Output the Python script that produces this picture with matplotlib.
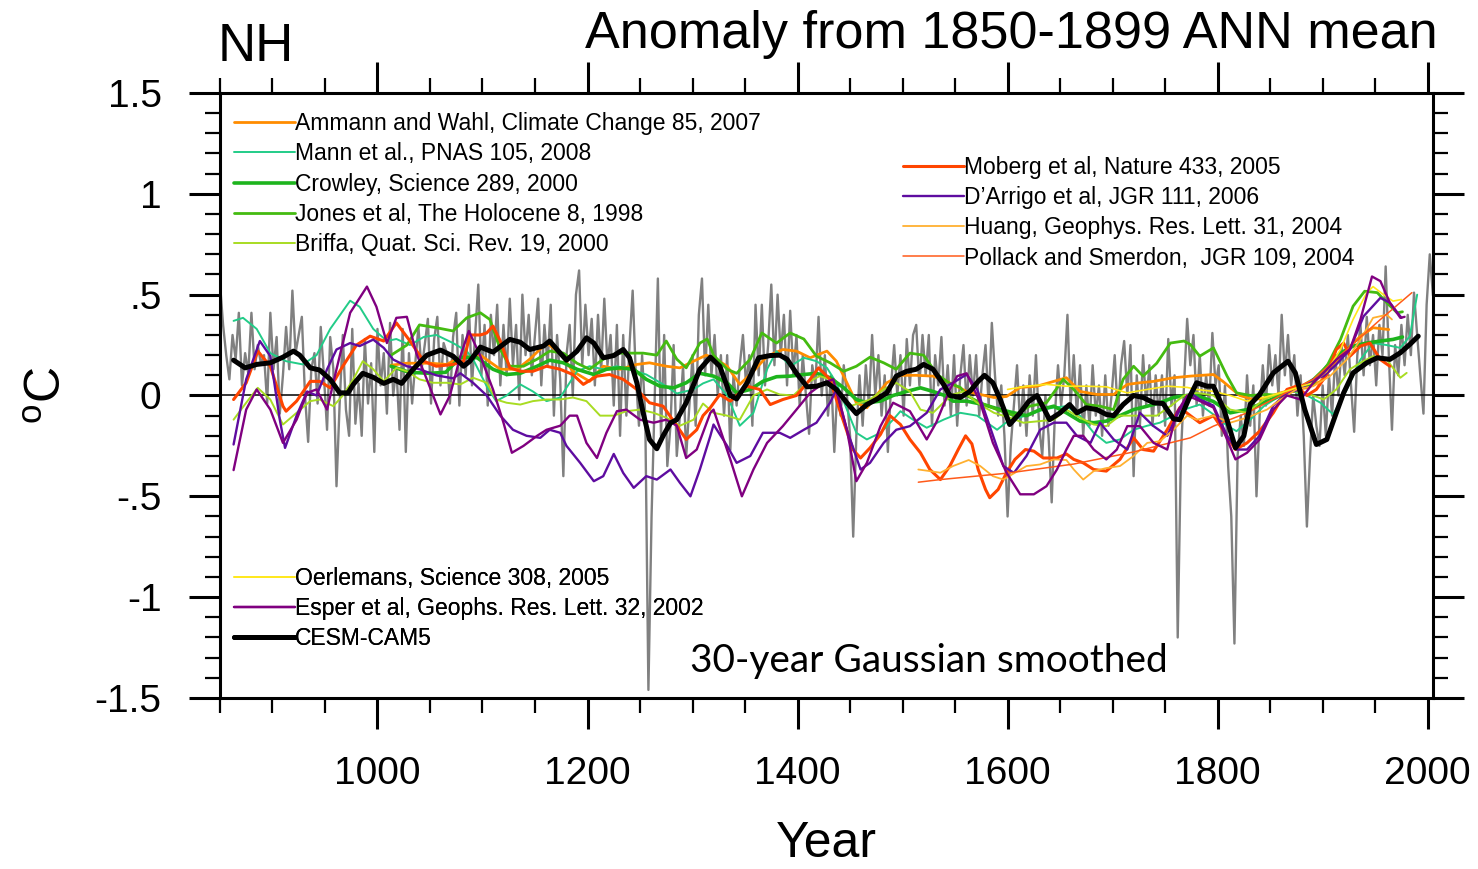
import numpy as np
import matplotlib
matplotlib.use("Agg")
import matplotlib.pyplot as plt
from matplotlib.ticker import MultipleLocator, FixedLocator

plt.rcParams['font.family'] = ['Liberation Sans', 'DejaVu Sans']
plt.rcParams['mathtext.fontset'] = 'custom'
plt.rcParams['mathtext.rm'] = 'Liberation Sans'

# ---------------------------------------------------------------------------
# Data: (year, anomaly in degC relative to 1850-1899)
# ---------------------------------------------------------------------------
cesm_annual = [
    (850, 0.56), (853, 0.35), (856, 0.2), (859, 0.08), (862, 0.3), (865, 0.18), (868, 0.41), (871, 0.05),
    (874, 0.21), (877, 0.11), (880, 0.41), (883, 0.13), (886, 0.25), (889, 0.16), (892, 0.2), (895, -0.04),
    (898, 0.41), (901, 0.13), (904, 0.29), (907, -0.09), (910, 0.1), (913, 0.34), (916, 0.13), (919, 0.52),
    (922, 0.21), (925, 0.3), (928, 0.39), (931, 0.0), (934, -0.23), (937, 0.13), (940, 0.21), (943, -0.04),
    (946, 0.34), (949, 0.1), (952, -0.17), (955, 0.29), (958, 0.13), (961, -0.45), (964, -0.04), (967, 0.3),
    (970, -0.07), (973, -0.2), (976, 0.33), (979, -0.14), (982, 0.06), (985, -0.2), (988, 0.28), (991, -0.04),
    (994, 0.16), (997, -0.28), (1000, 0.33), (1003, 0.05), (1006, 0.21), (1009, -0.09), (1012, 0.36),
    (1015, 0.0), (1018, 0.14), (1021, -0.17), (1024, 0.33), (1027, -0.28), (1030, 0.21), (1033, -0.04),
    (1036, 0.16), (1039, 0.34), (1042, 0.13), (1045, 0.25), (1048, 0.38), (1051, -0.04), (1054, 0.28),
    (1057, 0.39), (1060, 0.05), (1063, 0.26), (1066, 0.21), (1069, -0.04), (1072, 0.29), (1075, 0.41),
    (1078, -0.05), (1081, 0.3), (1084, 0.1), (1087, 0.45), (1090, 0.05), (1093, 0.3), (1096, 0.55),
    (1099, 0.1), (1102, 0.35), (1105, -0.05), (1108, 0.4), (1111, 0.2), (1114, 0.45), (1117, 0.05),
    (1120, 0.35), (1123, 0.1), (1126, 0.48), (1129, 0.15), (1132, 0.35), (1135, -0.02), (1138, 0.5),
    (1141, 0.2), (1144, 0.4), (1147, 0.1), (1150, 0.3), (1153, 0.48), (1156, 0.05), (1159, 0.35),
    (1162, 0.15), (1165, 0.45), (1168, -0.1), (1171, 0.3), (1174, 0.08), (1177, -0.4), (1180, 0.2),
    (1183, 0.35), (1186, 0.0), (1189, 0.5), (1192, 0.62), (1195, 0.15), (1198, 0.45), (1201, 0.2),
    (1204, 0.38), (1207, 0.05), (1210, 0.4), (1213, 0.12), (1216, 0.48), (1219, 0.15), (1222, 0.3),
    (1225, -0.05), (1228, 0.35), (1231, -0.2), (1234, 0.3), (1237, -0.1), (1240, 0.25), (1243, 0.52),
    (1246, 0.1), (1249, -0.15), (1252, 0.2), (1255, -0.1), (1258, -1.46), (1261, -0.6), (1264, 0.0),
    (1267, 0.58), (1270, -0.2), (1273, 0.3), (1276, -0.35), (1279, -0.15), (1282, 0.25), (1285, -0.3),
    (1288, -0.1), (1291, 0.15), (1294, -0.3), (1297, -0.05), (1300, 0.2), (1303, -0.15), (1306, 0.4),
    (1309, 0.58), (1312, 0.1), (1315, 0.45), (1318, 0.1), (1321, 0.3), (1324, 0.0), (1327, 0.2),
    (1330, -0.1), (1333, 0.2), (1336, -0.27), (1339, 0.1), (1342, -0.05), (1345, 0.15), (1348, 0.3),
    (1351, 0.05), (1354, 0.2), (1357, -0.15), (1360, 0.45), (1363, 0.1), (1366, 0.45), (1369, 0.05),
    (1372, 0.25), (1375, 0.55), (1378, 0.15), (1381, 0.5), (1384, 0.2), (1387, 0.4), (1390, 0.05),
    (1393, 0.42), (1396, 0.1), (1399, 0.3), (1402, -0.05), (1405, 0.2), (1408, 0.0), (1411, -0.19),
    (1414, 0.15), (1417, 0.05), (1420, 0.39), (1423, 0.0), (1426, 0.2), (1429, -0.1), (1432, 0.1),
    (1435, -0.28), (1438, 0.05), (1441, -0.1), (1444, 0.15), (1447, 0.0), (1450, -0.2), (1453, -0.7),
    (1456, -0.2), (1459, 0.1), (1462, -0.15), (1465, 0.15), (1468, -0.05), (1471, 0.3), (1474, 0.0),
    (1477, 0.2), (1480, -0.1), (1483, 0.1), (1486, -0.28), (1489, 0.05), (1492, 0.25), (1495, 0.0),
    (1498, 0.2), (1501, -0.1), (1504, 0.28), (1507, 0.05), (1510, 0.3), (1513, 0.35), (1516, 0.05),
    (1519, 0.3), (1522, 0.1), (1525, 0.3), (1528, -0.15), (1531, 0.2), (1534, 0.05), (1537, 0.29),
    (1540, -0.05), (1543, 0.15), (1546, -0.1), (1549, 0.2), (1552, -0.15), (1555, 0.1), (1558, 0.25),
    (1561, -0.05), (1564, 0.2), (1567, 0.0), (1570, 0.2), (1573, -0.1), (1576, 0.1), (1579, 0.25),
    (1582, -0.05), (1585, 0.36), (1588, 0.1), (1591, -0.1), (1594, 0.05), (1597, -0.2), (1600, -0.6),
    (1603, -0.25), (1606, -0.05), (1609, 0.15), (1612, -0.15), (1615, 0.05), (1618, -0.2), (1621, 0.1),
    (1624, -0.1), (1627, 0.2), (1630, -0.15), (1633, -0.3), (1636, 0.0), (1639, -0.2), (1642, -0.53),
    (1645, -0.1), (1648, 0.15), (1651, -0.05), (1654, 0.1), (1657, 0.4), (1660, -0.05), (1663, 0.2),
    (1666, -0.1), (1669, 0.15), (1672, -0.2), (1675, 0.05), (1678, -0.15), (1681, 0.15), (1684, -0.1),
    (1687, 0.05), (1690, -0.2), (1693, 0.1), (1696, -0.15), (1699, 0.0), (1702, 0.2), (1705, -0.1),
    (1708, 0.15), (1711, 0.27), (1714, 0.0), (1717, 0.25), (1720, -0.4), (1723, 0.1), (1726, -0.15),
    (1729, 0.2), (1732, -0.05), (1735, 0.15), (1738, -0.15), (1741, 0.1), (1744, -0.1), (1747, 0.1),
    (1750, -0.15), (1753, 0.28), (1756, -0.05), (1759, 0.1), (1762, -1.2), (1765, -0.3), (1768, 0.05),
    (1771, 0.38), (1774, 0.15), (1777, 0.3), (1780, -0.05), (1783, 0.2), (1786, -0.1), (1789, 0.1),
    (1792, -0.05), (1795, 0.31), (1798, 0.05), (1801, 0.15), (1804, -0.2), (1807, 0.05), (1810, -0.35),
    (1813, -0.6), (1816, -1.23), (1819, -0.3), (1822, -0.1), (1825, -0.25), (1828, 0.1), (1831, -0.15),
    (1834, 0.05), (1837, -0.5), (1840, -0.1), (1843, 0.15), (1846, -0.05), (1849, 0.25), (1852, 0.05),
    (1855, 0.2), (1858, 0.0), (1861, 0.4), (1864, 0.1), (1867, 0.3), (1870, 0.05), (1873, 0.2),
    (1876, -0.1), (1879, 0.1), (1882, -0.2), (1885, -0.65), (1888, -0.3), (1891, 0.0), (1894, -0.15),
    (1897, -0.25), (1900, 0.05), (1903, -0.2), (1906, 0.1), (1909, -0.1), (1912, 0.2), (1915, 0.0),
    (1918, 0.25), (1921, 0.1), (1924, 0.3), (1927, 0.05), (1930, -0.18), (1933, 0.2), (1936, 0.35),
    (1939, 0.1), (1942, 0.39), (1945, 0.15), (1948, 0.3), (1951, 0.05), (1954, 0.35), (1957, 0.2),
    (1960, 0.64), (1963, 0.2), (1966, -0.17), (1969, 0.25), (1972, 0.1), (1975, 0.35), (1978, 0.15),
    (1981, 0.4), (1984, 0.2), (1987, 0.51), (1990, 0.3), (1993, 0.1), (1996, -0.09), (1999, 0.45),
    (2002, 0.7), (2005, 0.5),
]

cesm_smoothed = [
    (863, 0.175), (874, 0.137), (885, 0.154), (898, 0.162), (910, 0.19), (920, 0.22), (926, 0.2),
    (936, 0.137), (945, 0.126), (955, 0.08), (964, 0.013), (972, 0.013), (977, 0.055), (986, 0.11),
    (996, 0.09), (1006, 0.06), (1015, 0.08), (1023, 0.06), (1034, 0.13), (1047, 0.2), (1060, 0.225),
    (1072, 0.195), (1082, 0.145), (1088, 0.17), (1098, 0.24), (1110, 0.215), (1126, 0.278), (1136, 0.264),
    (1145, 0.228), (1158, 0.245), (1164, 0.27), (1174, 0.21), (1180, 0.175), (1190, 0.22), (1199, 0.286),
    (1206, 0.26), (1215, 0.187), (1225, 0.198), (1234, 0.228), (1240, 0.187), (1247, 0.063), (1253, -0.086),
    (1259, -0.218), (1266, -0.264), (1272, -0.2), (1279, -0.136), (1285, -0.12), (1294, -0.036), (1307, 0.13),
    (1317, 0.19), (1326, 0.145), (1336, 0.0), (1342, -0.017), (1352, 0.063), (1363, 0.187), (1374, 0.198),
    (1383, 0.2), (1390, 0.18), (1399, 0.11), (1409, 0.043), (1418, 0.046), (1428, 0.063), (1437, 0.03),
    (1447, -0.036), (1456, -0.09), (1466, -0.045), (1475, -0.02), (1485, 0.013), (1494, 0.096), (1504, 0.12),
    (1513, 0.13), (1520, 0.154), (1529, 0.13), (1539, 0.055), (1545, 0.0), (1555, -0.01), (1564, 0.02),
    (1572, 0.07), (1578, 0.1), (1586, 0.063), (1593, -0.02), (1602, -0.144), (1612, -0.086), (1620, -0.03),
    (1628, 0.0), (1634, -0.06), (1640, -0.12), (1650, -0.086), (1659, -0.045), (1666, -0.086), (1675, -0.061),
    (1685, -0.07), (1694, -0.094), (1701, -0.1), (1710, -0.045), (1720, 0.0), (1729, -0.01), (1739, -0.036),
    (1748, -0.04), (1758, -0.116), (1764, -0.12), (1774, 0.0), (1780, 0.063), (1790, 0.046), (1796, 0.046),
    (1806, -0.07), (1817, -0.26), (1825, -0.2), (1831, -0.045), (1840, 0.005), (1853, 0.112), (1867, 0.17),
    (1874, 0.112), (1883, -0.07), (1894, -0.243), (1904, -0.218), (1913, -0.086), (1920, 0.013),
    (1929, 0.112), (1942, 0.162), (1952, 0.187), (1964, 0.179), (1974, 0.212), (1983, 0.253), (1991, 0.294),
]

ammann_wahl = [
    (1013, 0.15), (1028, 0.16), (1050, 0.16), (1066, 0.154), (1075, 0.18), (1079, 0.187), (1098, 0.2),
    (1117, 0.13), (1133, 0.13), (1145, 0.18), (1161, 0.26), (1174, 0.21), (1186, 0.12), (1202, 0.07),
    (1215, 0.145), (1231, 0.13), (1247, 0.154), (1259, 0.162), (1275, 0.145), (1288, 0.137), (1301, 0.17),
    (1313, 0.2), (1320, 0.187), (1333, 0.145), (1345, 0.055), (1358, 0.12), (1371, 0.195), (1386, 0.228),
    (1399, 0.22), (1412, 0.187), (1428, 0.22), (1437, 0.17), (1447, 0.063), (1456, -0.036), (1466, -0.061),
    (1475, 0.0), (1485, 0.063), (1498, 0.1), (1513, 0.1), (1529, 0.096), (1540, 0.075), (1548, 0.055),
    (1561, 0.02), (1574, 0.005), (1587, -0.01), (1599, -0.005), (1612, 0.04), (1628, 0.046), (1644, 0.07),
    (1656, 0.088), (1669, 0.02), (1685, 0.005), (1701, 0.005), (1714, 0.055), (1726, 0.063), (1739, 0.07),
    (1758, 0.088), (1774, 0.096), (1796, 0.104), (1805, 0.07), (1821, 0.0), (1834, -0.02), (1847, -0.01),
    (1860, 0.013), (1872, 0.03), (1885, 0.038), (1898, 0.07), (1910, 0.145), (1923, 0.228), (1936, 0.294),
    (1948, 0.336), (1963, 0.327),
]

mann = [
    (863, 0.37), (872, 0.385), (885, 0.33), (898, 0.21), (913, 0.17), (929, 0.154), (942, 0.2), (955, 0.33),
    (974, 0.47), (983, 0.44), (996, 0.33), (1009, 0.27), (1018, 0.28), (1031, 0.25), (1044, 0.29),
    (1056, 0.3), (1072, 0.26), (1085, 0.22), (1091, 0.18), (1104, 0.046), (1113, -0.028), (1123, 0.0),
    (1136, 0.055), (1148, 0.02), (1161, -0.028), (1174, -0.01), (1190, 0.12), (1202, 0.145), (1215, 0.13),
    (1228, 0.145), (1240, 0.13), (1256, 0.104), (1272, 0.055), (1285, 0.01), (1301, 0.03), (1310, 0.06),
    (1320, 0.08), (1333, 0.0), (1345, -0.15), (1358, -0.086), (1371, 0.13), (1380, 0.22), (1393, 0.145),
    (1406, 0.187), (1418, 0.17), (1428, 0.137), (1437, 0.063), (1447, -0.07), (1456, -0.185), (1466, -0.218),
    (1479, -0.185), (1491, -0.12), (1498, -0.078), (1510, -0.12), (1523, -0.16), (1539, -0.12),
    (1555, -0.086), (1571, -0.1), (1590, -0.17), (1602, -0.12), (1618, -0.1), (1634, -0.07), (1644, -0.06),
    (1656, -0.053), (1669, -0.1), (1682, -0.185), (1694, -0.235), (1707, -0.218), (1720, -0.17),
    (1733, -0.15), (1745, -0.135), (1758, -0.1), (1768, -0.07), (1783, -0.045), (1796, -0.094),
    (1809, -0.15), (1818, -0.177), (1831, -0.12), (1844, -0.053), (1860, 0.0), (1872, 0.02), (1885, 0.0),
    (1898, -0.036), (1910, -0.094), (1923, 0.03), (1936, 0.178), (1948, 0.26), (1961, 0.25), (1974, 0.236),
    (1983, 0.294), (1990, 0.5),
]

crowley = [
    (1013, 0.145), (1030, 0.115), (1050, 0.11), (1065, 0.115), (1079, 0.19), (1095, 0.187), (1110, 0.13),
    (1123, 0.104), (1136, 0.11), (1152, 0.145), (1164, 0.175), (1177, 0.162), (1190, 0.13), (1206, 0.104),
    (1218, 0.13), (1231, 0.137), (1244, 0.13), (1256, 0.08), (1269, 0.046), (1282, 0.038), (1294, 0.063),
    (1307, 0.11), (1320, 0.096), (1333, 0.063), (1342, 0.013), (1355, 0.03), (1367, 0.07), (1380, 0.093),
    (1393, 0.096), (1406, 0.104), (1418, 0.11), (1431, 0.088), (1444, 0.038), (1456, -0.02), (1466, -0.036),
    (1479, -0.028), (1491, 0.0), (1504, 0.02), (1517, 0.038), (1529, 0.02), (1540, 0.0), (1548, -0.028),
    (1561, -0.028), (1577, -0.045), (1593, -0.07), (1606, -0.086), (1618, -0.1), (1631, -0.07),
    (1644, -0.053), (1656, -0.086), (1669, -0.127), (1682, -0.135), (1694, -0.127), (1707, -0.1),
    (1720, -0.07), (1733, -0.053), (1745, -0.036), (1758, -0.01), (1771, 0.0), (1780, 0.0), (1796, -0.03),
    (1812, -0.086), (1828, -0.07), (1844, -0.036), (1860, 0.0), (1875, 0.03), (1891, 0.063), (1904, 0.145),
    (1917, 0.21), (1929, 0.245), (1942, 0.26), (1955, 0.27), (1967, 0.278), (1976, 0.29),
]

jones = [
    (1013, 0.2), (1028, 0.25), (1040, 0.35), (1056, 0.336), (1072, 0.32), (1085, 0.385), (1098, 0.41),
    (1107, 0.377), (1117, 0.228), (1126, 0.145), (1139, 0.145), (1152, 0.18), (1164, 0.22), (1177, 0.21),
    (1190, 0.16), (1202, 0.13), (1215, 0.18), (1228, 0.21), (1240, 0.21), (1253, 0.21), (1266, 0.2),
    (1275, 0.27), (1285, 0.18), (1294, 0.137), (1307, 0.26), (1314, 0.28), (1320, 0.2), (1333, 0.13),
    (1342, 0.11), (1355, 0.18), (1366, 0.31), (1380, 0.26), (1393, 0.31), (1406, 0.28), (1418, 0.195),
    (1431, 0.162), (1444, 0.12), (1456, 0.145), (1469, 0.19), (1482, 0.162), (1494, 0.13), (1507, 0.21),
    (1520, 0.2), (1533, 0.104), (1545, 0.06), (1555, 0.04), (1561, 0.0), (1574, -0.036), (1590, -0.07),
    (1606, -0.1), (1621, -0.053), (1637, -0.036), (1653, 0.08), (1663, 0.03), (1675, -0.045), (1688, -0.053),
    (1701, -0.07), (1710, 0.08), (1720, 0.145), (1729, 0.096), (1742, 0.16), (1755, 0.26), (1768, 0.27),
    (1774, 0.253), (1783, 0.195), (1796, 0.236), (1809, 0.096), (1818, 0.013), (1831, 0.0), (1847, 0.005),
    (1860, 0.0), (1875, 0.03), (1891, 0.08), (1904, 0.145), (1917, 0.278), (1929, 0.443), (1940, 0.517),
    (1952, 0.51), (1963, 0.45), (1971, 0.41), (1976, 0.415),
]

briffa = [
    (863, -0.12), (875, -0.036), (886, 0.038), (898, -0.02), (910, -0.144), (923, -0.086), (936, -0.028),
    (945, -0.02), (958, -0.053), (967, 0.0), (977, 0.08), (986, 0.17), (996, 0.13), (1006, 0.07),
    (1018, 0.137), (1028, 0.12), (1040, 0.08), (1053, 0.063), (1066, 0.063), (1079, 0.055), (1091, 0.088),
    (1104, 0.063), (1113, -0.02), (1123, -0.036), (1136, -0.045), (1148, -0.028), (1161, -0.02),
    (1174, -0.02), (1186, -0.01), (1199, -0.028), (1212, -0.1), (1225, -0.1), (1237, -0.078), (1250, -0.07),
    (1263, -0.086), (1275, -0.11), (1288, -0.15), (1301, -0.12), (1310, -0.04), (1320, -0.086), (1333, -0.1),
    (1345, -0.12), (1358, 0.0), (1371, 0.03), (1383, 0.005), (1396, 0.0), (1409, 0.063), (1421, 0.096),
    (1431, 0.08), (1440, 0.0), (1450, -0.053), (1460, -0.036), (1469, -0.02), (1482, 0.03), (1494, 0.063),
    (1507, 0.02), (1517, -0.07), (1529, -0.086), (1540, -0.03), (1548, 0.005), (1558, 0.02), (1571, -0.036),
    (1587, -0.086), (1602, -0.11), (1615, -0.135), (1631, -0.127), (1644, -0.12), (1656, -0.07),
    (1669, -0.11), (1682, -0.144), (1694, -0.152), (1707, -0.1), (1720, -0.1), (1733, -0.1), (1742, -0.1),
    (1755, -0.053), (1768, 0.0), (1780, 0.013), (1796, 0.0), (1812, -0.07), (1828, -0.086), (1844, -0.02),
    (1860, 0.013), (1875, 0.02), (1891, 0.0), (1901, -0.02), (1913, 0.03), (1926, 0.13), (1936, 0.162),
    (1948, 0.195), (1961, 0.178), (1974, 0.088), (1980, 0.112),
]

moberg = [
    (863, -0.02), (875, 0.063), (886, 0.22), (898, 0.145), (910, -0.053), (913, -0.078), (923, -0.028),
    (936, 0.07), (945, 0.07), (955, 0.038), (967, 0.145), (980, 0.25), (993, 0.294), (1006, 0.27),
    (1018, 0.36), (1031, 0.27), (1044, 0.17), (1056, 0.145), (1072, 0.154), (1082, 0.17), (1088, 0.3),
    (1098, 0.3), (1104, 0.31), (1110, 0.344), (1117, 0.27), (1126, 0.137), (1136, 0.12), (1148, 0.12),
    (1161, 0.145), (1174, 0.13), (1186, 0.104), (1196, 0.055), (1209, 0.096), (1221, 0.104), (1234, 0.08),
    (1247, 0.03), (1259, -0.036), (1272, -0.053), (1285, -0.15), (1294, -0.218), (1304, -0.17), (1310, -0.1),
    (1317, -0.06), (1326, 0.005), (1336, -0.028), (1352, 0.046), (1364, 0.03), (1374, -0.045), (1386, -0.02),
    (1399, 0.0), (1412, 0.08), (1420, 0.137), (1431, 0.08), (1440, -0.07), (1453, -0.27), (1460, -0.31),
    (1469, -0.26), (1479, -0.193), (1488, -0.1), (1498, -0.144), (1507, -0.218), (1517, -0.284),
    (1526, -0.367), (1536, -0.417), (1545, -0.35), (1553, -0.268), (1560, -0.2), (1566, -0.24),
    (1572, -0.367), (1579, -0.466), (1583, -0.507), (1591, -0.466), (1599, -0.383), (1607, -0.317),
    (1617, -0.268), (1625, -0.276), (1634, -0.31), (1647, -0.31), (1656, -0.29), (1663, -0.317),
    (1672, -0.334), (1682, -0.367), (1694, -0.375), (1707, -0.317), (1720, -0.21), (1729, -0.268),
    (1739, -0.276), (1752, -0.17), (1764, -0.06), (1774, -0.1), (1783, -0.135), (1796, -0.1), (1805, -0.17),
    (1817, -0.268), (1828, -0.235), (1840, -0.177), (1853, -0.086), (1866, 0.03), (1875, 0.046), (1885, 0.0),
    (1894, 0.03), (1904, 0.104), (1913, 0.228), (1920, 0.26), (1926, 0.195), (1936, 0.245), (1945, 0.26),
    (1955, 0.178), (1964, 0.145),
]

darrigo = [
    (863, -0.243), (875, 0.08), (888, 0.27), (898, 0.195), (907, -0.12), (912, -0.26), (923, -0.1),
    (933, 0.02), (942, 0.0), (952, 0.13), (961, 0.228), (974, 0.26), (983, 0.245), (996, 0.277),
    (1006, 0.236), (1015, 0.178), (1028, 0.145), (1040, 0.13), (1056, 0.1), (1072, 0.085), (1079, 0.11),
    (1091, 0.063), (1104, 0.0), (1117, -0.1), (1129, -0.17), (1142, -0.2), (1155, -0.21), (1164, -0.17),
    (1174, -0.185), (1180, -0.25), (1193, -0.334), (1206, -0.425), (1215, -0.4), (1225, -0.29),
    (1234, -0.384), (1244, -0.458), (1256, -0.4), (1266, -0.417), (1279, -0.367), (1288, -0.433),
    (1298, -0.5), (1307, -0.367), (1317, -0.2), (1320, -0.144), (1333, -0.25), (1342, -0.334), (1355, -0.3),
    (1367, -0.185), (1383, -0.185), (1393, -0.21), (1406, -0.17), (1418, -0.135), (1431, -0.036),
    (1437, 0.03), (1447, -0.17), (1460, -0.367), (1469, -0.334), (1482, -0.235), (1494, -0.17),
    (1507, -0.152), (1523, -0.086), (1536, 0.03), (1548, 0.063), (1561, 0.104), (1571, 0.03), (1583, -0.152),
    (1596, -0.35), (1606, -0.384), (1618, -0.3), (1631, -0.17), (1644, -0.135), (1656, -0.135), (1666, -0.2),
    (1679, -0.235), (1688, -0.135), (1701, -0.218), (1714, -0.268), (1726, -0.086), (1739, -0.152),
    (1752, -0.2), (1764, -0.07), (1774, 0.013), (1783, -0.02), (1796, -0.05), (1809, -0.2), (1818, -0.268),
    (1828, -0.268), (1840, -0.2), (1853, -0.05), (1866, 0.013), (1879, 0.03), (1891, 0.08), (1901, 0.096),
    (1913, 0.154), (1926, 0.228), (1939, 0.393), (1955, 0.484), (1964, 0.46), (1975, 0.385),
]

huang = [
    (1515, -0.367), (1526, -0.375), (1536, -0.383), (1548, -0.35), (1563, -0.32), (1574, -0.35),
    (1586, -0.4), (1596, -0.417), (1607, -0.383), (1618, -0.35), (1631, -0.342), (1644, -0.317),
    (1656, -0.32), (1663, -0.367), (1672, -0.417), (1682, -0.375), (1694, -0.36), (1707, -0.35),
    (1720, -0.3), (1733, -0.235), (1745, -0.227), (1758, -0.17), (1771, -0.1), (1780, -0.12), (1796, -0.1),
    (1812, -0.135), (1828, -0.11), (1847, -0.07), (1860, -0.02), (1875, 0.03), (1891, 0.046), (1907, 0.096),
    (1923, 0.178), (1936, 0.277), (1948, 0.385), (1961, 0.4), (1966, 0.377),
]

pollack_smerdon = [
    (1515, -0.43), (1536, -0.417), (1600, -0.385), (1663, -0.34), (1720, -0.28), (1774, -0.21),
    (1796, -0.152), (1828, -0.086), (1860, 0.0), (1891, 0.08), (1923, 0.228), (1955, 0.377), (1985, 0.51),
]

oerlemans = [
    (1600, 0.03), (1618, 0.046), (1637, 0.055), (1656, 0.046), (1675, 0.046), (1694, 0.043), (1714, 0.013),
    (1733, 0.03), (1752, 0.046), (1771, 0.04), (1780, 0.03), (1796, 0.02), (1812, 0.0), (1828, -0.028),
    (1844, -0.01), (1860, 0.013), (1875, 0.038), (1891, 0.063), (1904, 0.12), (1917, 0.228), (1929, 0.377),
    (1942, 0.51), (1948, 0.54), (1958, 0.5), (1967, 0.468), (1975, 0.476),
]

esper = [
    (863, -0.37), (875, -0.07), (885, 0.03), (898, -0.07), (910, -0.235), (923, -0.12), (933, 0.013),
    (942, 0.03), (952, -0.07), (961, 0.13), (974, 0.41), (990, 0.54), (999, 0.44), (1009, 0.26),
    (1018, 0.385), (1028, 0.39), (1037, 0.21), (1047, 0.08), (1060, -0.094), (1069, 0.0), (1079, 0.195),
    (1087, 0.32), (1098, 0.195), (1110, 0.03), (1120, -0.135), (1128, -0.284), (1139, -0.25), (1152, -0.2),
    (1161, -0.17), (1174, -0.15), (1183, -0.1), (1190, -0.1), (1199, -0.235), (1209, -0.31), (1218, -0.185),
    (1228, -0.078), (1237, -0.07), (1250, -0.12), (1263, -0.135), (1275, -0.12), (1285, -0.15),
    (1294, -0.31), (1304, -0.268), (1317, -0.086), (1320, -0.07), (1336, -0.317), (1347, -0.5),
    (1358, -0.367), (1371, -0.235), (1386, -0.152), (1399, -0.07), (1412, 0.013), (1425, 0.063),
    (1434, 0.08), (1447, -0.17), (1456, -0.425), (1466, -0.334), (1479, -0.152), (1491, -0.036),
    (1507, -0.078), (1523, -0.218), (1532, -0.135), (1545, 0.03), (1552, 0.096), (1561, 0.11), (1574, -0.036),
    (1586, -0.235), (1599, -0.383), (1612, -0.49), (1625, -0.49), (1637, -0.45), (1647, -0.367),
    (1656, -0.268), (1663, -0.2), (1672, -0.2), (1682, -0.268), (1694, -0.317), (1704, -0.268), (1714, -0.152),
    (1726, -0.152), (1739, -0.235), (1752, -0.268), (1761, -0.086), (1771, 0.0), (1780, -0.02),
    (1796, -0.06), (1809, -0.218), (1817, -0.317), (1828, -0.284), (1840, -0.218), (1853, -0.07),
    (1866, 0.0), (1879, -0.02), (1891, 0.063), (1901, 0.112), (1913, 0.178), (1926, 0.228), (1936, 0.377),
    (1947, 0.59), (1955, 0.567), (1964, 0.46), (1974, 0.385), (1978, 0.39),
]

x_ticks = [1000, 1200, 1400, 1600, 1800, 2000]
y_ticks = [-1.5, -1.0, -0.5, 0.0, 0.5, 1.0, 1.5]
y_tick_labels = ['-1.5', '-1', '-.5', '0', '.5', '1', '1.5']


def xy(pairs):
    arr = np.asarray(pairs, dtype=float)
    return arr[:, 0], arr[:, 1]


fig = plt.figure(figsize=(14.78, 8.69), dpi=100)
ax = fig.add_axes([0.1488, 0.1968, 0.8207, 0.6962])

# annual model output and zero reference
ax.plot(*xy(cesm_annual), color='#808080', lw=1.7, zorder=1, solid_joinstyle='round')
ax.axhline(0, color='black', lw=1.1, zorder=2)

# reconstructions: (data, label, colour, linewidth, legend group)
series = [
    (ammann_wahl, 'Ammann and Wahl, Climate Change 85, 2007', '#FF8C00', 2.0, 1),
    (mann, 'Mann et al., PNAS 105, 2008', '#22CC88', 1.4, 1),
    (crowley, 'Crowley, Science 289, 2000', '#1DB41D', 2.6, 1),
    (jones, 'Jones et al, The Holocene 8, 1998', '#44BB11', 2.0, 1),
    (briffa, 'Briffa, Quat. Sci. Rev. 19, 2000', '#A8DC22', 1.4, 1),
    (moberg, 'Moberg et al, Nature 433, 2005', '#FF4500', 2.2, 2),
    (darrigo, 'D\u2019Arrigo et al, JGR 111, 2006', '#5E0CA0', 1.7, 2),
    (huang, 'Huang, Geophys. Res. Lett. 31, 2004', '#FFB030', 1.3, 2),
    (pollack_smerdon, 'Pollack and Smerdon,  JGR 109, 2004', '#FF5A1A', 1.1, 2),
    (oerlemans, 'Oerlemans, Science 308, 2005', '#FFE81A', 1.2, 3),
    (esper, 'Esper et al, Geophs. Res. Lett. 32, 2002', '#800080', 1.7, 3),
]

groups = {1: [], 2: [], 3: []}
for data, label, color, lw, grp in series:
    line, = ax.plot(*xy(data), color=color, lw=lw, zorder=3, label=label,
                    solid_joinstyle='round', solid_capstyle='round')
    groups[grp].append(line)

cesm_line, = ax.plot(*xy(cesm_smoothed), color='black', lw=3.6, zorder=4, label='CESM-CAM5',
                     solid_joinstyle='round', solid_capstyle='round')
groups[3].append(cesm_line)

legend_kw = dict(loc='upper left', frameon=False, fontsize=16.5, handlelength=2.65,
                 handletextpad=0.0, labelspacing=0.31, borderpad=0.0, borderaxespad=0.0)
for grp, anchor in [(1, (0.0115, 0.968)), (2, (0.563, 0.8955)), (3, (0.0115, 0.2163))]:
    handles = groups[grp]
    leg = ax.legend(handles, [h.get_label() for h in handles],
                    bbox_to_anchor=anchor, bbox_transform=ax.transAxes, **legend_kw)
    ax.add_artist(leg)

# axes, ticks and labels
ax.set_xlim(850, 2005)
ax.set_ylim(-1.5, 1.5)
ax.xaxis.set_major_locator(FixedLocator(x_ticks))
ax.xaxis.set_minor_locator(MultipleLocator(50))
ax.yaxis.set_major_locator(FixedLocator(y_ticks))
ax.yaxis.set_minor_locator(MultipleLocator(0.1))
ax.set_yticklabels(y_tick_labels)
ax.tick_params(which='both', direction='out', top=True, right=True,
               labeltop=False, labelright=False)
ax.tick_params(which='major', length=22, width=2.2, labelsize=28, pad=20)
ax.tick_params(which='minor', length=11, width=1.6)
for spine in ax.spines.values():
    spine.set_linewidth(2.2)

ax.set_xlabel('Year', fontsize=36, labelpad=21)
ax.set_ylabel(r'$^{\mathrm{o}}$C', fontsize=36, labelpad=17)

ax.text(0.3875, 0.043, '30-year Gaussian smoothed', transform=ax.transAxes,
        fontsize=28, family=['Lato', 'DejaVu Sans'], ha='left', va='baseline')

fig.text(0.1475, 0.9298, 'NH', fontsize=38, ha='left', va='baseline')
fig.text(0.973, 0.945, 'Anomaly from 1850-1899 ANN mean', fontsize=37.5, ha='right', va='baseline')

fig.savefig('out.png', dpi=100)
